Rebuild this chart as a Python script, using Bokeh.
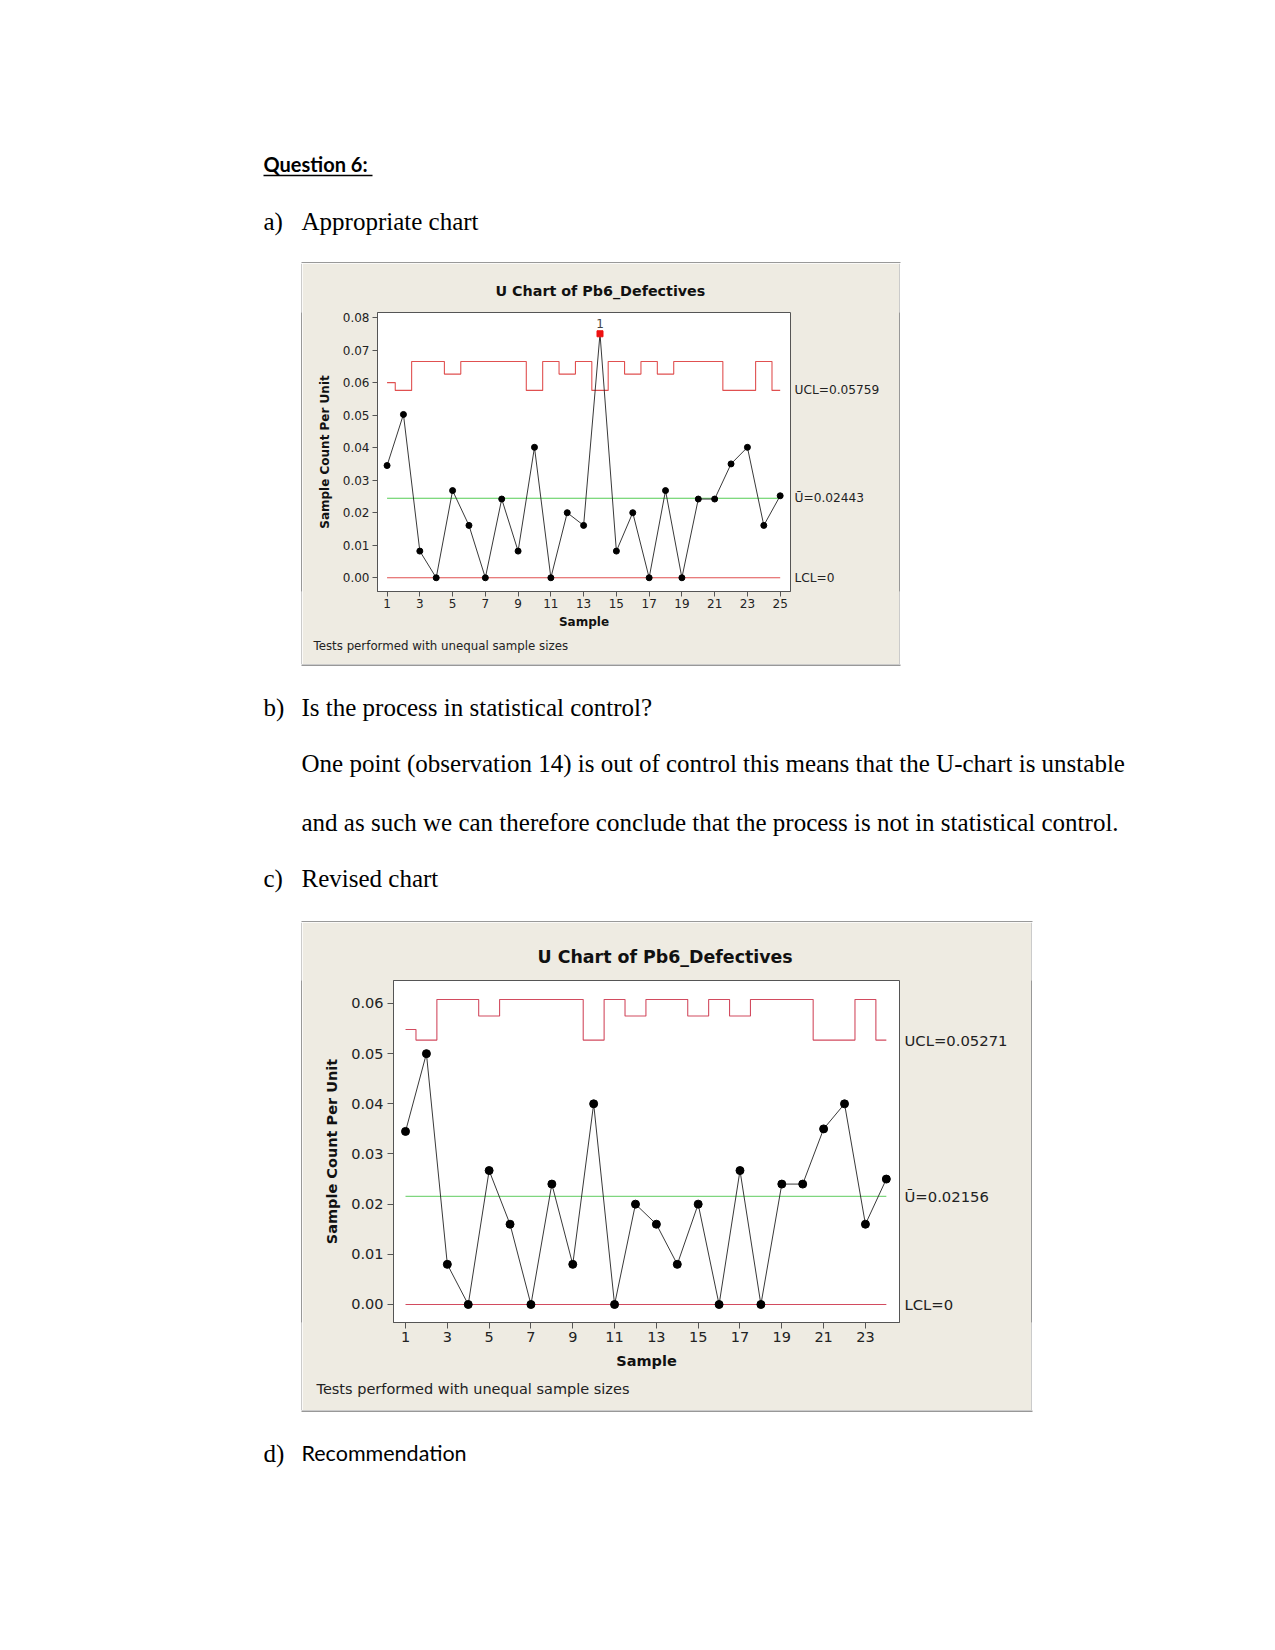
from bokeh.plotting import figure
from bokeh.models import Label, FixedTicker, Spacer, LinearAxis, Title
from bokeh.layouts import column, row
from bokeh.embed import file_html
from bokeh.resources import INLINE
from bokeh.core.properties import value

# ---------------- data ----------------
title_text = "U Chart of Pb6_Defectives"
xlabel_text = "Sample"
ylabel_text = "Sample Count Per Unit"
foot_text = "Tests performed with unequal sample sizes"

# (a) original chart, 25 samples
samples_a = list(range(1, 26))
u_a = [0.0345, 0.0502, 0.0082, 0.0, 0.0268, 0.0161, 0.0, 0.0242, 0.0082, 0.0401,
       0.0, 0.0200, 0.0161, 0.0750, 0.0082, 0.0200, 0.0, 0.0268, 0.0, 0.0242,
       0.0242, 0.0350, 0.0401, 0.0161, 0.0252]
ucl_a = [0.0600, 0.0576, 0.0665, 0.0665, 0.0626, 0.0665, 0.0665, 0.0665, 0.0665, 0.0576,
         0.0665, 0.0626, 0.0665, 0.0576, 0.0665, 0.0626, 0.0665, 0.0626, 0.0665, 0.0665,
         0.0665, 0.0576, 0.0576, 0.0665, 0.0576]
ubar_a = 0.02443
lcl_a = 0.0
ooc_a = [14]
ooc_label_a = ["1"]
ucl_text_a = "UCL=0.05759"
ubar_text_a = "Ū=0.02443"
lcl_text_a = "LCL=0"
xticks_a = [1, 3, 5, 7, 9, 11, 13, 15, 17, 19, 21, 23, 25]
xtick_labels_a = ["1", "3", "5", "7", "9", "11", "13", "15", "17", "19", "21", "23", "25"]
yticks_a = [0.0, 0.01, 0.02, 0.03, 0.04, 0.05, 0.06, 0.07, 0.08]
ytick_labels_a = ["0.00", "0.01", "0.02", "0.03", "0.04", "0.05", "0.06", "0.07", "0.08"]

# (c) revised chart, 24 samples
samples_b = list(range(1, 25))
u_b = [0.0345, 0.0500, 0.0080, 0.0, 0.0267, 0.0160, 0.0, 0.0240, 0.0080, 0.0400,
       0.0, 0.0200, 0.0160, 0.0080, 0.0200, 0.0, 0.0267, 0.0, 0.0240, 0.0240,
       0.0350, 0.0400, 0.0160, 0.0250]
ucl_b = [0.0548, 0.0527, 0.0608, 0.0608, 0.0575, 0.0608, 0.0608, 0.0608, 0.0608, 0.0527,
         0.0608, 0.0575, 0.0608, 0.0608, 0.0575, 0.0608, 0.0575, 0.0608, 0.0608, 0.0608,
         0.0527, 0.0527, 0.0608, 0.0527]
ubar_b = 0.02156
lcl_b = 0.0
ooc_b = []
ooc_label_b = []
ucl_text_b = "UCL=0.05271"
ubar_text_b = "Ū=0.02156"
lcl_text_b = "LCL=0"
xticks_b = [1, 3, 5, 7, 9, 11, 13, 15, 17, 19, 21, 23]
xtick_labels_b = ["1", "3", "5", "7", "9", "11", "13", "15", "17", "19", "21", "23"]
yticks_b = [0.0, 0.01, 0.02, 0.03, 0.04, 0.05, 0.06]
ytick_labels_b = ["0.00", "0.01", "0.02", "0.03", "0.04", "0.05", "0.06"]

# page text
heading = "Question 6:"
items = [("a)", "Appropriate chart"), ("b)", "Is the process in statistical control?"),
         ("c)", "Revised chart"), ("d)", "Recommendation")]
para = ["One point (observation 14) is out of control this means that the U-chart is unstable",
        "and as such we can therefore conclude that the process is not in statistical control."]

BEIGE = "#EEEBE2"
EDGE = "#333333"
SERIF = "Liberation Serif"
SANS = "Lato"
CF = "DejaVu Sans"


def make_chart(samples, u, ucl, ubar, lcl, ooc, ooc_lbl, txt_ucl, txt_ubar, txt_lcl,
               xticks, xtl, yticks, ytl, g):
    p = figure(width=g["w"], height=g["h"], x_range=g["xr"], y_range=g["yr"],
               output_backend="svg", toolbar_location=None, title=None,
               min_border_left=g["bl"], min_border_right=g["br"],
               min_border_top=g["bt"], min_border_bottom=g["bb"],
               background_fill_color="white", border_fill_color=BEIGE,
               outline_line_color="#555555", outline_line_width=1)
    p.grid.visible = False
    for ax, ticks, labels in ((p.xaxis, xticks, xtl), (p.yaxis, yticks, ytl)):
        ax.ticker = FixedTicker(ticks=ticks)
        ax.major_label_overrides = dict(zip(ticks, labels))
        ax.major_label_orientation = "horizontal"
        ax.major_tick_out = g["tick"]
        ax.major_tick_in = 0
        ax.minor_tick_out = 0
        ax.minor_tick_in = 0
        ax.axis_line_color = "#555555"
        ax.major_tick_line_color = "#555555"
        ax.major_label_text_font = CF
        ax.major_label_text_font_size = "%gpx" % g["fs_tick"]
        ax.major_label_text_color = "#222222"
        ax.axis_label_text_font = CF
        ax.axis_label_text_font_style = "bold"
        ax.axis_label_text_font_size = "%gpx" % g["fs_axl"]
        ax.axis_label_text_color = "#111111"
    p.xaxis.axis_label = xlabel_text
    p.yaxis.axis_label = ylabel_text
    p.xaxis.major_label_standoff = g["xls"]
    p.xaxis.axis_label_standoff = g["xas"]
    p.yaxis.major_label_standoff = g["yls"]
    p.yaxis.axis_label_standoff = g["yas"]

    # control limits
    p.step(samples, ucl, mode="center", line_color=g["red"], line_width=1.1)
    p.line([samples[0], samples[-1]], [lcl, lcl], line_color=g["red"], line_width=1.1)
    p.line([samples[0], samples[-1]], [ubar, ubar], line_color=g["green"], line_width=1.1)

    # data
    p.line(samples, u, line_color="#222222", line_width=0.9)
    ok_x = [s for s in samples if s not in ooc]
    ok_y = [v for s, v in zip(samples, u) if s not in ooc]
    p.scatter(ok_x, ok_y, marker="circle", size=g["dot"], fill_color="black", line_color="black")
    if ooc:
        bx = [s for s in samples if s in ooc]
        by = [v for s, v in zip(samples, u) if s in ooc]
        p.scatter(bx, by, marker="square", size=g["dot"], fill_color="#EE1111", line_color="#EE1111")
        for xx, yy, t in zip(bx, by, ooc_lbl):
            p.add_layout(Label(x=xx, y=yy, text=t, y_offset=g["dot"] + 4, text_align="center",
                               text_baseline="middle", text_font=CF,
                               text_font_size="%gpx" % g["fs_tick"], text_color="#444444"))

    # right-side limit labels as a tick-less right axis
    lim_vals = [ucl[-1], ubar, lcl]
    lim_txt = [txt_ucl, txt_ubar, txt_lcl]
    rax = LinearAxis(ticker=FixedTicker(ticks=lim_vals),
                     major_label_overrides=dict(zip(lim_vals, lim_txt)),
                     major_tick_out=0, major_tick_in=0, minor_tick_out=0, minor_tick_in=0,
                     axis_line_color=None, major_label_standoff=g["rlo"],
                     major_label_text_font=CF, major_label_text_font_size="%gpx" % g["fs_r"],
                     major_label_text_color="#222222")
    p.add_layout(rax, "right")

    # chart title (above) and footnote (below)
    p.add_layout(Title(text=title_text, align="left", offset=g["toff"], vertical_align="bottom",
                       standoff=g["tstand"], text_font=CF, text_font_style="bold",
                       text_font_size="%gpx" % g["fs_t"], text_color="#111111"), "above")
    p.add_layout(Title(text=foot_text, align="left", offset=g["foff"], vertical_align="top",
                       standoff=g["fstand"], text_font=CF, text_font_style="normal",
                       text_font_size="%gpx" % g["fs_f"], text_color="#222222"), "below")
    return p


geo_a = dict(w=597, h=401, bl=75, br=109, bt=49, bb=73, xr=(0.416, 25.63), yr=(-0.00422, 0.08154),
             tick=5, fs_tick=12, fs_axl=12, fs_r=12.2, fs_t=14.3, fs_f=11.8, dot=6,
             xls=2, xas=4, yls=3, yas=8, rlo=4, toff=118, tstand=28, foff=-64, fstand=15,
             red="#E05050", green="#55CC55")
geo_b = dict(w=729, h=488, bl=91, br=132, bt=58, bb=88, xr=(0.425, 24.63), yr=(-0.00359, 0.06458),
             tick=6, fs_tick=14.5, fs_axl=14.5, fs_r=14.8, fs_t=17.4, fs_f=14.5, dot=8,
             xls=3, xas=8, yls=4, yas=8, rlo=5, toff=144, tstand=28, foff=-77, fstand=18,
             red="#D24B5F", green="#7FD67F")

chart_a = make_chart(samples_a, u_a, ucl_a, ubar_a, lcl_a, ooc_a, ooc_label_a,
                     ucl_text_a, ubar_text_a, lcl_text_a, xticks_a, xtick_labels_a,
                     yticks_a, ytick_labels_a, geo_a)
chart_b = make_chart(samples_b, u_b, ucl_b, ubar_b, lcl_b, ooc_b, ooc_label_b,
                     ucl_text_b, ubar_text_b, lcl_text_b, xticks_b, xtick_labels_b,
                     yticks_b, ytick_labels_b, geo_b)


def edge_fig(h):
    f = figure(width=1, height=h, output_backend="svg", toolbar_location=None, title=None,
               x_axis_type=None, y_axis_type=None, min_border=0,
               background_fill_color=EDGE, border_fill_color=EDGE, outline_line_color=None)
    f.grid.visible = False
    return f


def page_fig(h):
    p = figure(width=1275, height=h, x_range=(0, 1275), y_range=(h, 0),
               output_backend="svg", toolbar_location=None, title=None,
               x_axis_type=None, y_axis_type=None, min_border=0,
               background_fill_color="white", border_fill_color="white",
               outline_line_color=None)
    p.grid.visible = False
    return p


SHIFT = 8.5  # alphabetic baseline correction


def put(p, x, y, t, font, size, style="normal"):
    p.text(x=[x], y=[y - SHIFT], text=[t], text_font=value(font), text_font_size=value("%gpx" % size),
           text_font_style=value(style), text_baseline="alphabetic", text_align="left",
           text_color="black")


# segment 1: 0..263
seg1 = page_fig(263)
put(seg1, 263, 172.3, heading, SANS, 20, "bold")
seg1.line([263, 372], [175.0, 175.0], line_color="black", line_width=1.5)
put(seg1, 263, 229.3, items[0][0], SERIF, 25)
put(seg1, 301, 229.3, items[0][1], SERIF, 25)
seg1.line([301, 900], [262.5, 262.5], line_color=EDGE, line_width=1)

# segment 2: 664..922
off2 = 664
seg2 = page_fig(258)
seg2.line([301, 900], [0.5, 0.5], line_color=EDGE, line_width=1)
put(seg2, 263, 715.0 - off2, items[1][0], SERIF, 25)
put(seg2, 301, 715.0 - off2, items[1][1], SERIF, 25)
put(seg2, 301, 771.7 - off2, para[0], SERIF, 25)
put(seg2, 301, 830.0 - off2, para[1], SERIF, 25)
put(seg2, 263, 886.7 - off2, items[2][0], SERIF, 25)
put(seg2, 301, 886.7 - off2, items[2][1], SERIF, 25)
seg2.line([301, 1032], [257.5, 257.5], line_color=EDGE, line_width=1)

# segment 3: 1410..1650
off3 = 1410
seg3 = page_fig(240)
seg3.line([301, 1032], [0.5, 0.5], line_color=EDGE, line_width=1)
put(seg3, 263, 1461.2 - off3, items[3][0], SERIF, 25)
put(seg3, 301, 1461.2 - off3, items[3][1], SANS, 21.5)

layout = column(
    seg1,
    row(Spacer(width=301, height=401), edge_fig(401), chart_a, edge_fig(401)),
    seg2,
    row(Spacer(width=301, height=488), edge_fig(488), chart_b, edge_fig(488)),
    seg3,
)

open("out.html", "w").write(file_html(layout, INLINE, title="Question 6"))
